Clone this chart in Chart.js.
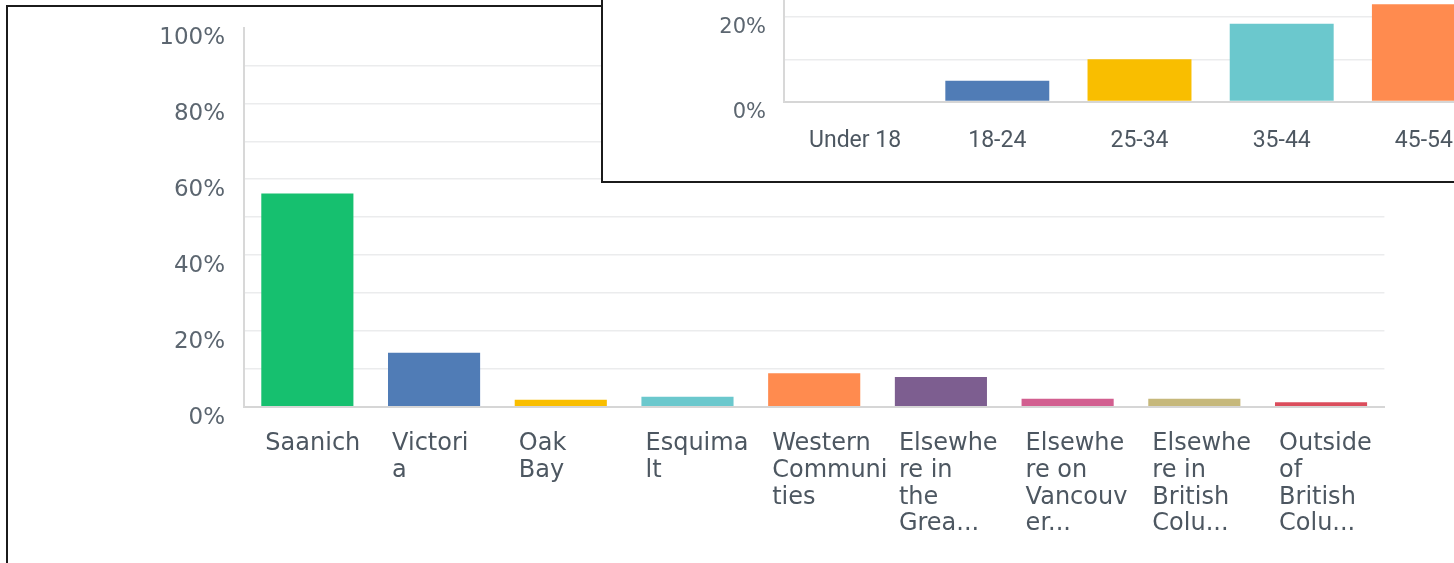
<!DOCTYPE html>
<html>
<head>
<meta charset="utf-8">
<script src="https://cdn.jsdelivr.net/npm/chart.js@4.4.1/dist/chart.umd.min.js"></script>
<style>
  html, body { margin: 0; padding: 0; width: 1454px; height: 563px; overflow: hidden; background: #fff; }
  #frame { position: absolute; left: 6px; top: 5px; width: 1500px; height: 600px; border: 2px solid #1b1b1b; box-sizing: border-box; }
  #mainWrap { position: absolute; left: 0; top: 0; width: 1454px; height: 563px; }
  #inset { position: absolute; left: 601px; top: -10px; width: 900px; height: 193px; border: 2px solid #1b1b1b; box-sizing: border-box; background: #fff; overflow: hidden; }
  #insetWrap { position: absolute; left: 0; top: -92px; width: 957px; height: 281px; }
</style>
</head>
<body>
<div id="frame"></div>
<div id="mainWrap"><canvas id="mainChart"></canvas></div>
<div id="inset"><div id="insetWrap"><canvas id="ageChart"></canvas></div></div>
<script>
// Where respondents live
const placeLabels = [
  ['Saanich'],
  ['Victori', 'a'],
  ['Oak', 'Bay'],
  ['Esquima', 'lt'],
  ['Western', 'Communi', 'ties'],
  ['Elsewhe', 're in', 'the', 'Grea...'],
  ['Elsewhe', 're on', 'Vancouv', 'er...'],
  ['Elsewhe', 're in', 'British', 'Colu...'],
  ['Outside', 'of', 'British', 'Colu...']
];
const placeShares = [56.2, 14.2, 1.8, 2.6, 8.8, 7.8, 2.1, 2.1, 1.2];
const placeColors = ['#16c06f', '#507cb6', '#f9be00', '#6bc8cd', '#ff8b4f', '#7d5e90', '#d25f90', '#c6b87b', '#db4d5c'];

// Age groups
const ageLabels = ['Under 18', '18-24', '25-34', '35-44', '45-54'];
const ageShares = [0, 4.9, 10.0, 18.4, 23.0];
const ageColors = ['#16c06f', '#507cb6', '#f9be00', '#6bc8cd', '#ff8b4f'];

const yTickLabels = [0, 20, 40, 60, 80, 100];

Chart.defaults.animation = false;
Chart.defaults.devicePixelRatio = 1;

const percentLabel = v => (yTickLabels.includes(v) ? v + '%' : '');

// keep the plot area where the layout padding puts it
function fixedWidth(w) {
  return s => { s.width = w; s.paddingTop = 0; s.paddingBottom = 0; };
}
function fixedHeight(h) {
  return s => { s.height = h; };
}

new Chart(document.getElementById('mainChart'), {
  type: 'bar',
  data: {
    labels: placeLabels,
    datasets: [{
      data: placeShares,
      backgroundColor: placeColors,
      borderWidth: 0,
      barPercentage: 0.727,
      categoryPercentage: 1.0
    }]
  },
  options: {
    responsive: true,
    maintainAspectRatio: false,
    layout: { padding: { left: 0, top: 27.5, right: 69.6, bottom: 0 } },
    plugins: { legend: { display: false }, tooltip: { enabled: false } },
    scales: {
      x: {
        grid: { display: false, drawTicks: false },
        border: { display: true, color: '#d6d6d6', width: 2 },
        afterFit: fixedHeight(156.3),
        ticks: {
          autoSkip: false, maxRotation: 0, minRotation: 0,
          align: 'start', labelOffset: -42, padding: 24,
          color: '#4d5761',
          font: { family: 'DejaVu Sans', size: 24, lineHeight: 1.11 }
        }
      },
      y: {
        min: 0, max: 100,
        grid: {
          drawTicks: false,
          lineWidth: 1.5,
          color: c => (c.tick && c.tick.value === 100 ? 'rgba(0,0,0,0)' : '#ebeced')
        },
        border: { display: true, color: '#d8d8d8', width: 2 },
        afterFit: fixedWidth(244),
        ticks: {
          stepSize: 10, padding: 19, labelOffset: 11,
          color: '#5c6670',
          font: { family: 'DejaVu Sans', size: 23 },
          callback: percentLabel
        }
      }
    }
  }
});

new Chart(document.getElementById('ageChart'), {
  type: 'bar',
  data: {
    labels: ageLabels,
    datasets: [{
      data: ageShares,
      backgroundColor: ageColors,
      borderWidth: 0,
      barPercentage: 0.731,
      categoryPercentage: 1.0
    }]
  },
  options: {
    responsive: true,
    maintainAspectRatio: false,
    layout: { padding: { left: 0, top: 32.5, right: 65, bottom: 0 } },
    plugins: { legend: { display: false }, tooltip: { enabled: false } },
    scales: {
      x: {
        grid: { display: false, drawTicks: false },
        border: { display: true, color: '#d6d6d6', width: 2 },
        afterFit: fixedHeight(79.5),
        ticks: {
          autoSkip: false, maxRotation: 0, minRotation: 0,
          padding: 26, color: '#4d5761',
          font: { family: 'Roboto', size: 23, lineHeight: 1.2 }
        }
      },
      y: {
        min: 0, max: 40,
        grid: { drawTicks: false, lineWidth: 1.5, color: '#ebeced' },
        border: { display: true, color: '#d8d8d8', width: 2 },
        afterFit: fixedWidth(181),
        ticks: {
          stepSize: 10, padding: 18, labelOffset: 11,
          color: '#5c6670',
          font: { family: 'DejaVu Sans', size: 21 },
          callback: percentLabel
        }
      }
    }
  }
});
</script>
</body>
</html>
